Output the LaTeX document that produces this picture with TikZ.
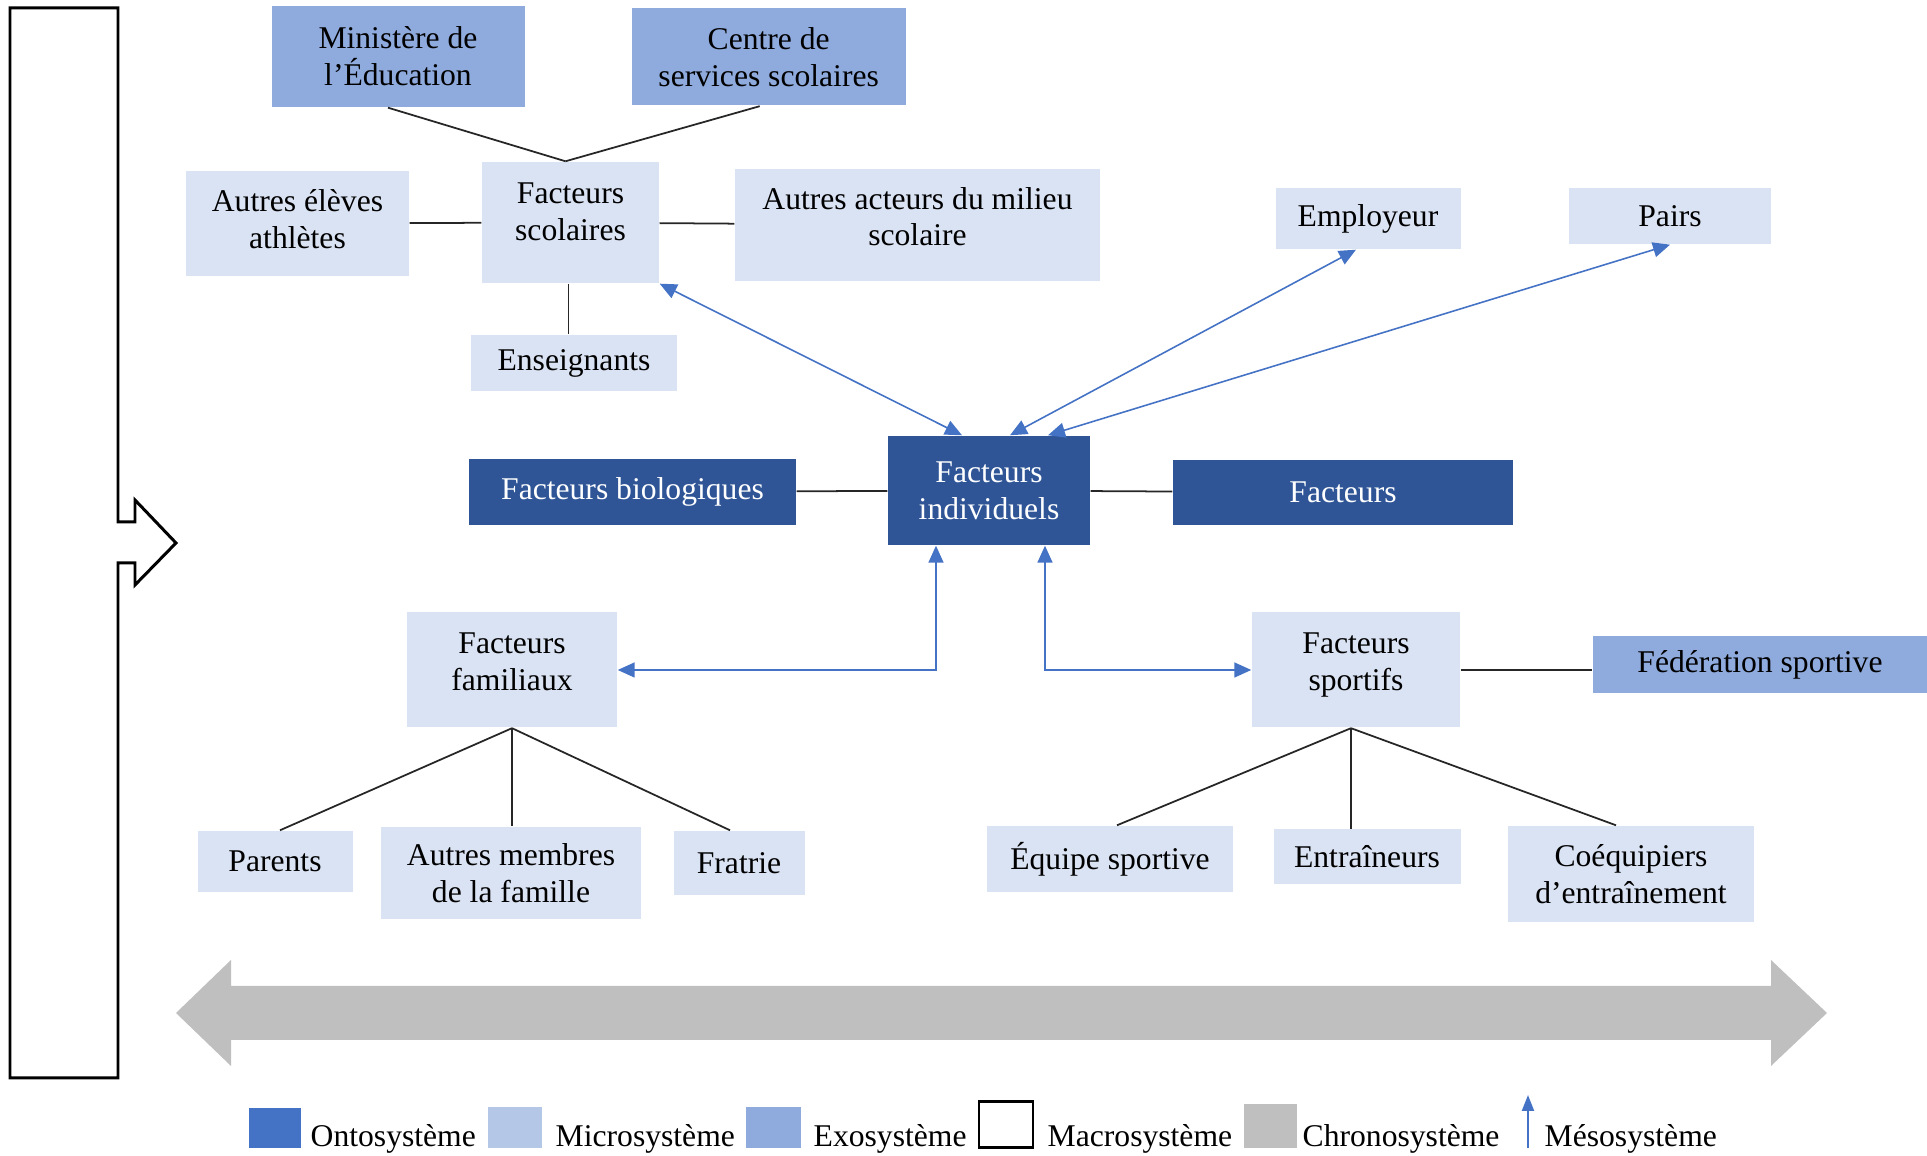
\documentclass[tikz,border=0pt]{standalone}
\usepackage{fontspec}
\setmainfont{Liberation Serif}
\usepackage{tikz}
\usetikzlibrary{positioning}
\usetikzlibrary{arrows.meta}
\usetikzlibrary{calc}
\definecolor{ontoblue}{HTML}{2F5597}
\definecolor{legonto}{HTML}{4472C4}
\definecolor{microblue}{HTML}{DAE3F3}
\definecolor{legmicro}{HTML}{B4C7E7}
\definecolor{exoblue}{HTML}{8FAADC}
\definecolor{chronogrey}{HTML}{BFBFBF}
\definecolor{mesoblue}{HTML}{4472C4}
\tikzset {
  % boxes, one style per system
  onto/.style = {fill=ontoblue, text=white, inner sep=0pt, align=center},
  micro/.style = {fill=microblue, inner sep=0pt, align=center},
  exo/.style = {fill=exoblue, inner sep=0pt, align=center},
  % plain links between factors
  link/.style = {draw=black!85, line width=0.5pt},
  % mesosystem arrows
  meso/.style = {draw=mesoblue, line width=0.45pt,
    {Triangle[length=1.7mm, width=1.5mm]}-{Triangle[length=1.7mm, width=1.5mm]}},
  legtext/.style = {anchor=base west, inner sep=0pt},
}

\begin{document}
\begin{tikzpicture}[font=\fontsize{9}{10.5}\selectfont]
      \useasboundingbox (0,0) rectangle (19.27,-11.56);

      % macrosystem
      \draw[line width=0.85pt] (0.10,-0.08) -- (1.18,-0.08) -- (1.18,-5.22) -- (1.35,-5.22)
        -- (1.35,-5.00) -- (1.76,-5.43) -- (1.35,-5.85) -- (1.35,-5.63) -- (1.18,-5.63)
        -- (1.18,-10.78) -- (0.10,-10.78) -- cycle;

      % chronosystem
      \fill[chronogrey] (1.76,-10.13) -- (2.31,-9.60) -- (2.31,-9.86) -- (17.71,-9.86)
        -- (17.71,-9.60) -- (18.27,-10.13) -- (17.71,-10.66) -- (17.71,-10.40)
        -- (2.31,-10.40) -- (2.31,-10.66) -- cycle;

      \node[exo, minimum width=2.53cm, minimum height=1.01cm] (min) at (3.98, -0.565) {Ministère de\\l’Éducation};
      \node[exo, minimum width=2.74cm, minimum height=0.97cm] (css) at (7.687, -0.57) {Centre de\\services scolaires};
      \node[micro, minimum width=1.77cm, minimum height=1.21cm, text depth=6.2pt] (fs) at (5.705, -2.225) {Facteurs\\scolaires};
      \node[micro, minimum width=2.23cm, minimum height=1.05cm, text depth=2.5pt] (aea) at (2.975, -2.235) {Autres élèves\\athlètes};
      \node[micro, minimum width=3.65cm, minimum height=1.12cm, text depth=4.8pt] (aam) at (9.175, -2.25) {Autres acteurs du milieu\\scolaire};
      \node[micro, minimum width=2.06cm, minimum height=0.56cm] (ens) at (5.74, -3.63) {Enseignants};
      \node[micro, minimum width=1.85cm, minimum height=0.61cm] (emp) at (13.68, -2.185) {Employeur};
      \node[micro, minimum width=2.02cm, minimum height=0.56cm] (pairs) at (16.70, -2.16) {Pairs};

      \node[onto, minimum width=3.27cm, minimum height=0.66cm] (bio) at (6.325, -4.92) {Facteurs biologiques};
      \node[onto, minimum width=2.02cm, minimum height=1.09cm] (fi) at (9.89, -4.905) {Facteurs\\individuels};
      \node[onto, minimum width=3.40cm, minimum height=0.65cm] (fact) at (13.43, -4.925) {Facteurs};

      \node[micro, minimum width=2.10cm, minimum height=1.15cm, text depth=4.8pt] (ff) at (5.12, -6.70) {Facteurs\\familiaux};
      \node[micro, minimum width=2.08cm, minimum height=1.15cm, text depth=4.8pt] (fsp) at (13.56, -6.70) {Facteurs\\sportifs};
      \node[exo, minimum width=3.34cm, minimum height=0.57cm] (fed) at (17.60, -6.65) {Fédération sportive};

      \node[micro, minimum width=1.55cm, minimum height=0.61cm] (par) at (2.75, -8.615) {Parents};
      \node[micro, minimum width=2.60cm, minimum height=0.92cm] (amf) at (5.11, -8.73) {Autres membres\\de la famille};
      \node[micro, minimum width=1.31cm, minimum height=0.64cm] (fra) at (7.39, -8.63) {Fratrie};
      \node[micro, minimum width=2.46cm, minimum height=0.66cm] (equ) at (11.10, -8.59) {Équipe sportive};
      \node[micro, minimum width=1.87cm, minimum height=0.55cm] (ent) at (13.67, -8.57) {Entraîneurs};
      \node[micro, minimum width=2.46cm, minimum height=0.96cm] (coe) at (16.31, -8.74) {Coéquipiers\\d’entraînement};

      % where the links leave the boxes
      \coordinate (fstop) at ($(fs.north)+(-0.05,0)$);
      \coordinate (fsbot) at ($(fs.south)+(-0.02,0)$);
      \coordinate (fspbot) at ($(fsp.south)+(-0.05,0)$);

      \draw[link] ($(min.south)+(-0.10,0)$) -- (fstop);
      \draw[link] ($(css.south)+(-0.09,0)$) -- (fstop);
      \draw[link] (aea) -- (fs);
      \draw[link] (fs) -- (aam);
      \draw[link] (fsbot) -- (fsbot |- ens.north);
      \draw[link] (bio) -- (fi);
      \draw[link] (fi) -- (fact);
      \draw[link] (fsp) -- (fsp -| fed.west);
      \draw[link] (ff.south) -- ($(par.north)+(0.05,0)$);
      \draw[link] (ff.south) -- (ff.south |- amf.north);
      \draw[link] (ff.south) -- ($(fra.north)+(-0.09,0)$);
      \draw[link] (fspbot) -- ($(equ.north)+(0.07,0)$);
      \draw[link] (fspbot) -- (fspbot |- ent.north);
      \draw[link] (fspbot) -- ($(coe.north)+(-0.15,0)$);

      \coordinate (fitopA) at ($(fi.north)+(-0.27,0)$);
      \coordinate (fitopB) at ($(fi.north)+(0.21,0)$);
      \coordinate (fitopC) at ($(fi.north)+(0.59,0)$);
      \coordinate (fibotL) at ($(fi.south)+(-0.53,0)$);
      \coordinate (fibotR) at ($(fi.south)+(0.56,0)$);
      \draw[meso] (fs.south east) -- (fitopA);
      \draw[meso] ($(emp.south)+(-0.12,0)$) -- (fitopB);
      \draw[meso] (pairs.south) -- (fitopC);
      \draw[meso] (fibotL) |- (ff.east);
      \draw[meso] (fibotR) |- (fsp.west);

      % legend
      \fill[legonto] (2.49,-11.08) rectangle (3.01,-11.48);
      \fill[legmicro] (4.88,-11.07) rectangle (5.42,-11.48);
      \fill[exoblue] (7.46,-11.07) rectangle (8.01,-11.48);
      \draw[line width=0.85pt] (9.79,-11.02) rectangle (10.33,-11.48);
      \fill[chronogrey] (12.44,-11.04) rectangle (12.97,-11.48);
      \coordinate (mesolo) at (15.28,-11.48);
      \coordinate (mesohi) at (15.28,-10.95);
      \draw[draw=mesoblue, line width=0.6pt, -{Triangle[length=1.6mm, width=1.2mm]}] (mesolo) -- (mesohi);
      \node[legtext] (lonto) at (3.10,-11.47) {Ontosystème};
      \node[legtext] (lmicro) at (5.55,-11.47) {Microsystème};
      \node[legtext] (lexo) at (8.13,-11.47) {Exosystème};
      \node[legtext] (lmacro) at (10.47,-11.47) {Macrosystème};
      \node[legtext] (lchrono) at (13.02,-11.47) {Chronosystème};
      \node[legtext] (lmeso) at (15.44,-11.47) {Mésosystème};
    \end{tikzpicture}
\end{document}
